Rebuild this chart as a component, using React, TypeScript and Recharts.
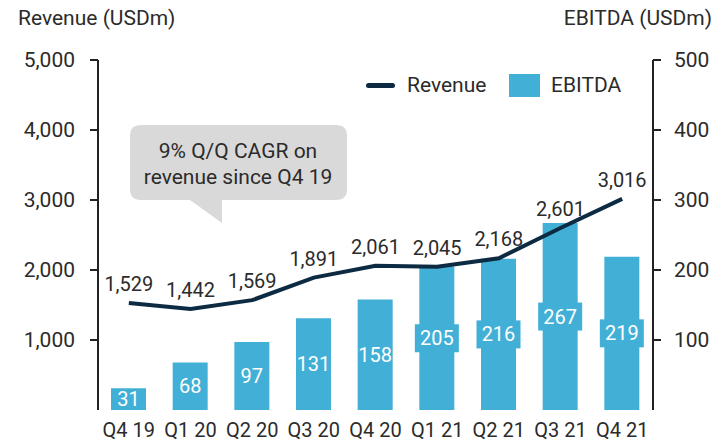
import React from 'react';
import { ComposedChart, Bar, Line, XAxis, YAxis, LabelList, Customized } from 'recharts';

const quarters = ['Q4 19', 'Q1 20', 'Q2 20', 'Q3 20', 'Q4 20', 'Q1 21', 'Q2 21', 'Q3 21', 'Q4 21'];
const revenue = [1529, 1442, 1569, 1891, 2061, 2045, 2168, 2601, 3016];
const ebitda = [31, 68, 97, 131, 158, 205, 216, 267, 219];
const revenueTicks = [1000, 2000, 3000, 4000, 5000];
const ebitdaTicks = [100, 200, 300, 400, 500];

const BAR_COLOR = '#42b0d6';
const LINE_COLOR = '#0c2a42';
const TEXT = '#2b2b2b';
const AXIS = '#222';
const FONT = 'Roboto, sans-serif';

const data = quarters.map((q, i) => ({ name: q, revenue: revenue[i], ebitda: ebitda[i] }));

const fmt = (v: number) => v.toLocaleString('en-US');

const BarValue = (props: any) => {
  const { x, y, width, height, value } = props;
  const cx = x + width / 2;
  const cy = y + height / 2;
  return (
    <g>
      {value >= 200 && <rect x={cx - 22} y={cy - 14} width={44} height={28} fill={BAR_COLOR} />}
      <text x={cx} y={cy} dy="0.35em" textAnchor="middle" fill="#fff" fontSize={20} fontFamily={FONT}>
        {value}
      </text>
    </g>
  );
};

// baseline runs a little past both y axes
const Baseline = (props: any) => {
  const { offset } = props;
  if (!offset) return null;
  const y = offset.top + offset.height;
  return <line x1={offset.left - 9} x2={offset.left + offset.width + 7} y1={y} y2={y} stroke={AXIS} strokeWidth={2} />;
};

// speech bubble with the CAGR note
const Callout = () => (
  <g fontFamily={FONT}>
    <path
      d="M141,125 H336 Q347,125 347,136 V189 Q347,200 336,200 H222 V223 L190,200 H141 Q130,200 130,189 V136 Q130,125 141,125 Z"
      fill="#d9d9d9"
    />
    <text x={238} y={158} textAnchor="middle" fill={TEXT} fontSize={21}>9% Q/Q CAGR on</text>
    <text x={238} y={184} textAnchor="middle" fill={TEXT} fontSize={21}>revenue since Q4 19</text>
  </g>
);

const yTick = { fill: TEXT, fontSize: 21, fontFamily: FONT };
const xTick = { fill: TEXT, fontSize: 20, fontFamily: FONT };

export default function App() {
  return (
    <div style={{ position: 'absolute', left: 0, top: 0, width: 715, height: 443, background: '#fff', fontFamily: FONT }}>
      <div style={{ position: 'absolute', left: 18, top: 6, fontSize: 21, color: TEXT, lineHeight: 'normal' }}>Revenue (USDm)</div>
      <div style={{ position: 'absolute', right: 3, top: 6, fontSize: 21, color: TEXT, lineHeight: 'normal' }}>EBITDA (USDm)</div>
      <div style={{ position: 'absolute', left: 366, top: 83, width: 29, height: 5, borderRadius: 3, background: LINE_COLOR }} />
      <div style={{ position: 'absolute', left: 407, top: 73, fontSize: 21, color: TEXT }}>Revenue</div>
      <div style={{ position: 'absolute', left: 509, top: 74, width: 31, height: 23, background: BAR_COLOR }} />
      <div style={{ position: 'absolute', left: 551, top: 73, fontSize: 21, color: TEXT }}>EBITDA</div>
      <ComposedChart width={715} height={443} data={data} margin={{ top: 60, right: 0, bottom: 0, left: 0 }}>
        <XAxis dataKey="name" height={33} tickLine={false} axisLine={false} tick={xTick} tickMargin={7} />
        <YAxis
          yAxisId="left"
          width={98}
          domain={[0, 5000]}
          ticks={revenueTicks}
          tickFormatter={fmt}
          tick={yTick}
          tickSize={8}
          tickMargin={15}
          axisLine={{ stroke: AXIS, strokeWidth: 2 }}
          tickLine={{ stroke: AXIS, strokeWidth: 2 }}
        />
        <YAxis
          yAxisId="right"
          orientation="right"
          width={62}
          domain={[0, 500]}
          ticks={ebitdaTicks}
          tick={yTick}
          tickSize={8}
          tickMargin={13}
          axisLine={{ stroke: AXIS, strokeWidth: 2 }}
          tickLine={{ stroke: AXIS, strokeWidth: 2 }}
        />
        <Bar yAxisId="right" dataKey="ebitda" fill={BAR_COLOR} barSize={35} isAnimationActive={false}>
          <LabelList dataKey="ebitda" content={<BarValue />} />
        </Bar>
        <Line
          yAxisId="left"
          dataKey="revenue"
          stroke={LINE_COLOR}
          strokeWidth={4}
          dot={false}
          activeDot={false}
          isAnimationActive={false}
        >
          <LabelList dataKey="revenue" position="top" offset={12} formatter={fmt} fill={TEXT} fontSize={20} fontFamily={FONT} />
        </Line>
        <Customized component={Baseline} />
        <Customized component={Callout} />
      </ComposedChart>
    </div>
  );
}
